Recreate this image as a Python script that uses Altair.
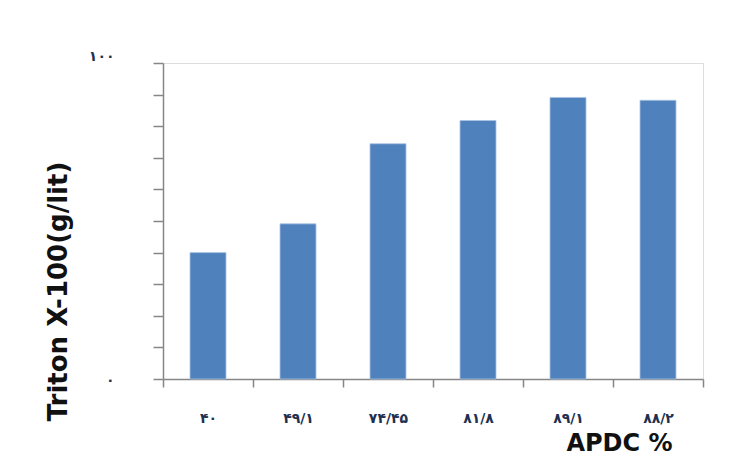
import altair as alt
import pandas as pd

categories = ["۴۰", "۴۹/۱", "۷۴/۴۵", "۸۱/۸", "۸۹/۱", "۸۸/۲"]
values = [40, 49.1, 74.45, 81.8, 89.1, 88.2]
y_ticks = [0, 10, 20, 30, 40, 50, 60, 70, 80, 90, 100]

df = pd.DataFrame({"cat": categories, "val": values})

axis_gray = "#868686"
label_color = "#1F3050"

chart = alt.Chart(df).mark_bar(
    color="#4F81BD", stroke="#A9C4E6", strokeWidth=0.8, width=alt.RelativeBandSize(0.4)
).encode(
    x=alt.X(
        "cat:N",
        sort=categories,
        scale=alt.Scale(paddingInner=0, paddingOuter=0),
        axis=alt.Axis(
            title="APDC %",
            titleFont="DejaVu Sans",
            titleFontSize=24,
            titleFontWeight="bold",
            titleColor="#111111",
            titleX=509,
            titleY=71,
            titleAlign="right",
            titleBaseline="alphabetic",
            labelAngle=0,
            labelFont="DejaVu Sans",
            labelFontSize=14,
            labelFontWeight="bold",
            labelColor=label_color,
            labelPadding=24,
            domainColor=axis_gray,
            domainWidth=1.5,
            tickColor=axis_gray,
            tickWidth=1.5,
            tickSize=8,
            tickBand="extent",
            grid=False,
        ),
    ),
    y=alt.Y(
        "val:Q",
        scale=alt.Scale(domain=[0, 100], nice=False),
        axis=alt.Axis(
            title="Triton X-100(g/lit)",
            titleFont="DejaVu Sans",
            titleFontSize=26,
            titleFontWeight="bold",
            titleColor="#111111",
            titleX=-97,
            titleY=228,
            titleAlign="center",
            titleBaseline="alphabetic",
            values=y_ticks,
            labelExpr="datum.value == 100 ? '۱۰۰' : (datum.value == 0 ? '۰' : '')",
            labelFont="DejaVu Sans",
            labelFontSize=14,
            labelFontWeight="bold",
            labelColor=label_color,
            labelAlign="right",
            labelPadding=39,
            labelOffset={"condition": {"test": "datum.value == 100", "value": -7}, "value": 1},
            domainColor=axis_gray,
            domainWidth=1.5,
            tickColor=axis_gray,
            tickWidth=1.5,
            tickSize=10,
            grid=False,
        ),
    ),
).properties(
    width=540,
    height=316,
    autosize=alt.AutoSizeParams(type="none"),
    padding={"left": 155, "top": 55, "right": 34, "bottom": 79},
).configure_view(strokeWidth=0, stroke="transparent").configure(background="white")

chart.save("out.html", embed_options={"renderer": "svg", "actions": False})
